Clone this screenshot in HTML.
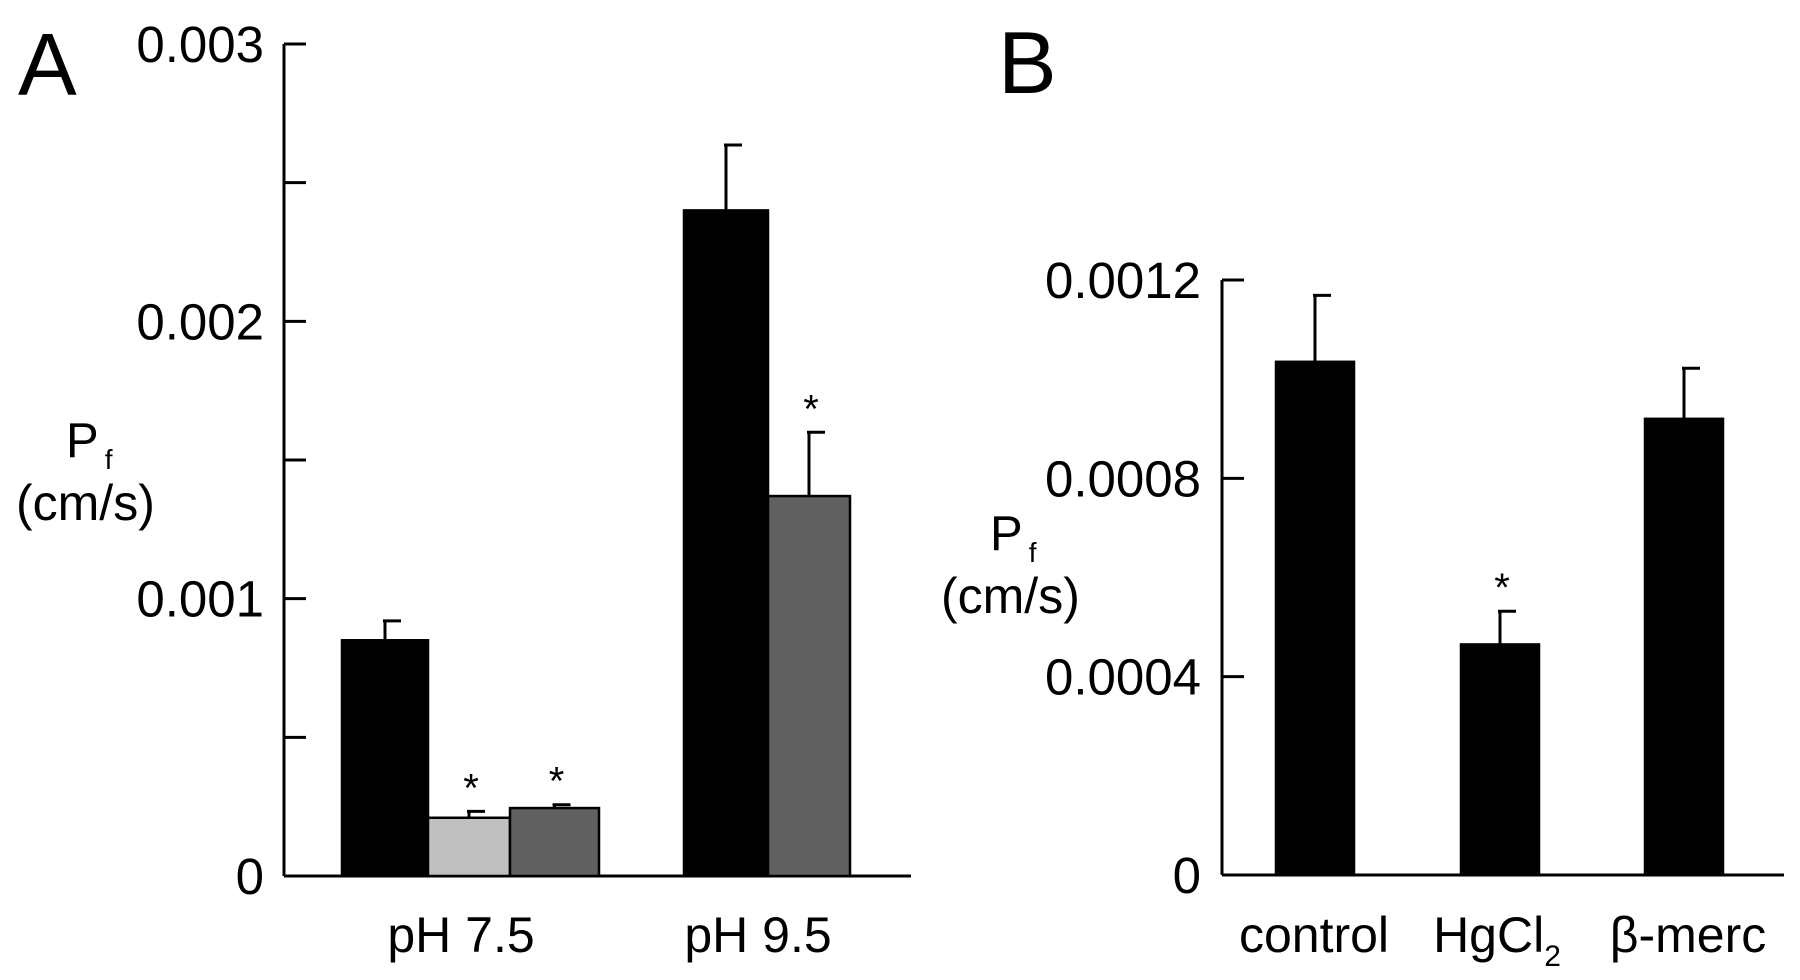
<!DOCTYPE html>
<html><head><meta charset="utf-8"><style>
html,body{margin:0;padding:0;background:#fff}
svg{display:block;font-family:"Liberation Sans",sans-serif}
</style></head><body>
<svg id="c" width="1800" height="980" viewBox="0 0 1800 980">
<text x="18" y="95" font-size="88">A</text>
<text x="998" y="93" font-size="88">B</text>
<g>
<text x="66" y="457" font-size="49">P<tspan font-size="28" dx="6" dy="12">f</tspan></text>
<text x="16" y="520" font-size="50">(cm/s)</text></g>
<g>
<text x="990" y="550" font-size="49">P<tspan font-size="28" dx="6" dy="12">f</tspan></text>
<text x="941" y="613" font-size="50">(cm/s)</text></g>
<g id="ga"></g><g id="gb"></g>
</svg>
<script>
// Panel A data
const catsA = ["pH 7.5", "pH 9.5"];
const valsA = [0.00085, 0.00021, 0.000245, 0.0024, 0.00137];
const errsA = [0.00092, 0.000233, 0.000257, 0.002636, 0.0016];
const starA = [false, true, true, false, true];
const ticksA = [0, 0.001, 0.002, 0.003];
const minorA = [0.0005, 0.0015, 0.0025];
const tickLabelsA = ["0", "0.001", "0.002", "0.003"];
// Panel B data
const catsB = ["control", "HgCl2", "β-merc"];
const valsB = [0.001035, 0.000465, 0.00092];
const errsB = [0.001169, 0.000532, 0.001022];
const starB = [false, true, false];
const ticksB = [0, 0.0004, 0.0008, 0.0012];
const tickLabelsB = ["0", "0.0004", "0.0008", "0.0012"];

const NS = "http://www.w3.org/2000/svg";
function mk(p, tag, at) { const e = document.createElementNS(NS, tag); for (const k in at) e.setAttribute(k, at[k]); p.appendChild(e); return e; }

const yA = v => 876 - v / 0.003 * 832;
const yB = v => 875 - v / 0.0012 * 595;
const ga = document.getElementById('ga'), gb = document.getElementById('gb');

function axis(g, x0, x1, yf, ticks, labels, minor, top, labelRight, nm) {
  let l = mk(g, 'line', {x1: x0, y1: yf(top), x2: x0, y2: yf(0), stroke: '#000', 'stroke-width': 3});
  
  
  l = mk(g, 'line', {x1: x0, y1: yf(0), x2: x1, y2: yf(0), stroke: '#000', 'stroke-width': 3});
  
  
  ticks.forEach((t, i) => {
    if (i > 0) { const tk = mk(g, 'line', {x1: x0, y1: yf(t), x2: x0 + 22, y2: yf(t), stroke: '#000', 'stroke-width': 3});
      
       }
    const tx = mk(g, 'text', {x: labelRight, y: yf(t) + 18, 'font-size': 51, 'text-anchor': 'end'});
    tx.textContent = labels[i];
    
    
  });
  minor.forEach(t => { const tk = mk(g, 'line', {x1: x0, y1: yf(t), x2: x0 + 22, y2: yf(t), stroke: '#000', 'stroke-width': 3});
    
     });
}
function bar(g, x, w, v, e, yf, fill, star, nm) {
  const r = mk(g, 'rect', {x: x, y: yf(v), width: w, height: yf(0) - yf(v), fill: fill, stroke: '#000', 'stroke-width': 2.5});
  
  
  const cx = x + w / 2;
  const eb = mk(g, 'path', {d: `M${cx},${yf(v)}V${yf(e)}M${cx-2},${yf(e)}H${cx+16}`, stroke: '#000', 'stroke-width': 3, fill: 'none'});
  
  
  if (star) { const s = mk(g, 'text', {x: cx + 2, y: yf(e) + 2, 'font-size': 40, 'text-anchor': 'middle'}); s.textContent = '*';
    s.setAttribute('dy', '-12');
    
     }
}
axis(ga, 284, 911, yA, ticksA, tickLabelsA, minorA, 0.003, 264, 'panel-a');
const xsA = [342, 428, 510, 684, 768], wsA = [86, 82, 89, 84, 82];
const fillsA = ['#000', '#c0c0c0', '#606060', '#000', '#606060'];
valsA.forEach((v, i) => bar(ga, xsA[i], wsA[i], v, errsA[i], yA, fillsA[i], starA[i], 'panel-a-bar-' + (i + 1)));
[461, 758].forEach((cx, i) => { const t = mk(ga, 'text', {x: cx, y: 952, 'font-size': 50, 'text-anchor': 'middle'}); t.textContent = catsA[i];
  
   });

axis(gb, 1222, 1784, yB, ticksB, tickLabelsB, [], 0.0012, 1201, 'panel-b');
const xsB = [1276, 1461, 1645];
valsB.forEach((v, i) => bar(gb, xsB[i], 78, v, errsB[i], yB, '#000', starB[i], 'panel-b-bar-' + catsB[i].toLowerCase().replace(/[^a-z0-9]/g, '')));
[1314, 1497, 1688].forEach((cx, i) => {
  const t = mk(gb, 'text', {x: cx, y: 952, 'font-size': 50, 'text-anchor': 'middle'});
  if (catsB[i] === 'HgCl2') { t.textContent = 'HgCl'; const s = mk(t, 'tspan', {dy: 14, 'font-size': 30}); s.textContent = '2'; }
  else t.textContent = catsB[i];
  
  
});
</script>
</body></html>
